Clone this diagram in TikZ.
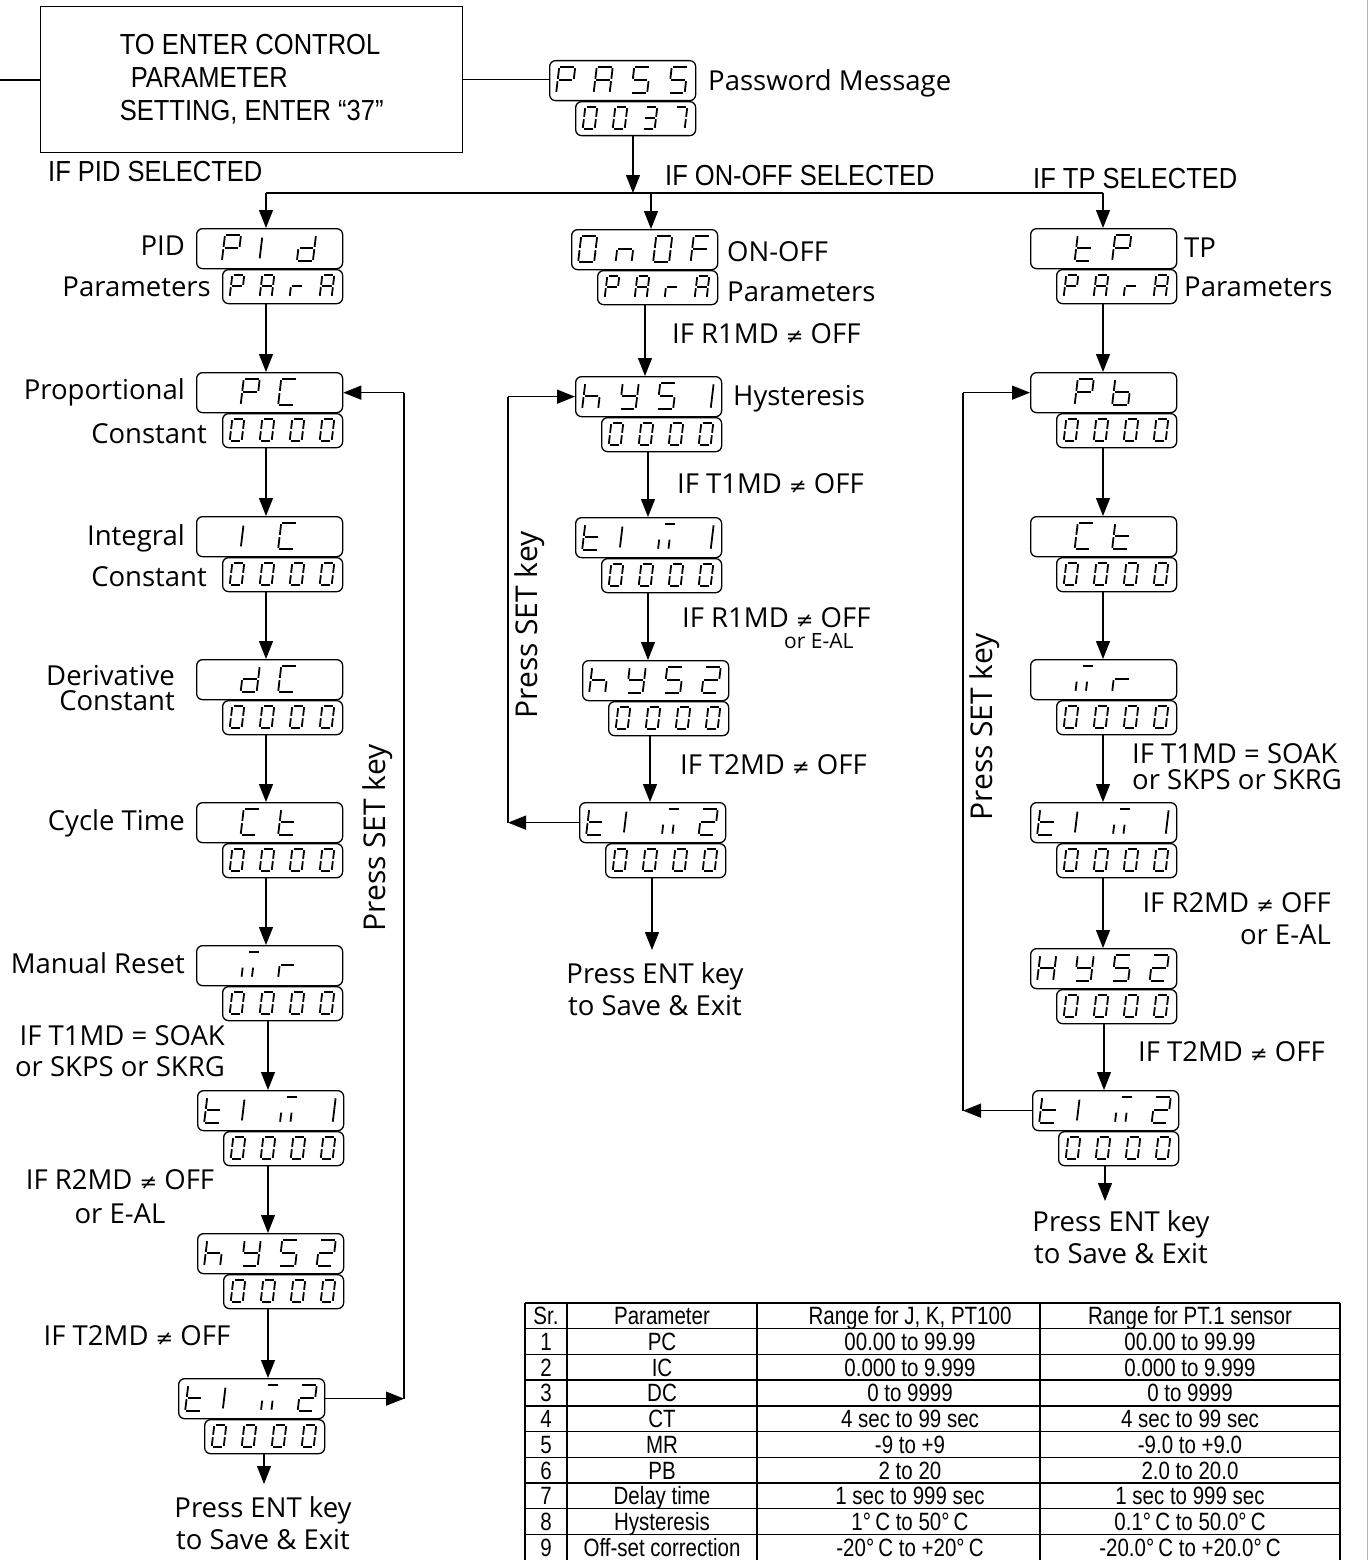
\documentclass[tikz,border=0pt]{standalone}
\usepackage{fontspec}
\setmainfont{Open Sans}
\newfontfamily\cond[FakeStretch=0.88]{Liberation Sans}
\newfontfamily\tcond[FakeStretch=0.82]{Liberation Sans}
\newfontfamily\symf{DejaVu Sans}
\usetikzlibrary{arrows.meta}
\newcommand\nq{{\symf\fontsize{21}{21}\selectfont ≠}}
\newcommand\defgly[2]{\expandafter\def\csname gly#1\endcsname{#2}}
\defgly{P}{a,b,e,f,g}
\defgly{A}{a,b,c,e,f,g}
\defgly{S}{a,f,g,c,d}
\defgly{0}{a,b,c,d,e,f}
\defgly{O}{a,b,c,d,e,f}
\defgly{3}{a,b,g,c,d}
\defgly{7}{a,b,c}
\defgly{I}{l}
\defgly{1}{r}
\defgly{d}{b,c,d,e,g}
\defgly{n}{c,e,g}
\defgly{F}{a,e,f,g}
\defgly{r}{e,g}
\defgly{h}{f,e,g,c}
\defgly{y}{b,f,g,c,d}
\defgly{2}{a,b,g,e,d}
\defgly{H}{b,c,e,f,g}
\defgly{t}{f,e,g,d}
\defgly{C}{a,f,e,d}
\defgly{b}{f,e,d,c,g}
\defgly{m}{m}
\def\sgap{1.2}
\newcommand\segda{\draw[seg] (\sgap,0)--(\segW-\sgap,0);}
\newcommand\segdb{\draw[seg] (\segW,\sgap)--(\segW,\segH/2-\sgap);}
\newcommand\segdc{\draw[seg] (\segW,\segH/2+\sgap)--(\segW,\segH-\sgap);}
\newcommand\segdd{\draw[seg] (\sgap,\segH)--(\segW-\sgap,\segH);}
\newcommand\segde{\draw[seg] (0,\segH/2+\sgap)--(0,\segH-\sgap);}
\newcommand\segdf{\draw[seg] (0,\sgap)--(0,\segH/2-\sgap);}
\newcommand\segdg{\draw[seg] (\sgap,\segH/2)--(\segW-\sgap,\segH/2);}
\newcommand\segdl{\draw[seg] (0,0.1*\segH)--(0,0.9*\segH);}
\newcommand\segdr{\draw[seg] (\segW,0.05*\segH)--(\segW,0.95*\segH);}
\newcommand\segdm{\draw[seg] (0.3*\segW,0)--(0.95*\segW,0);
  \draw[seg] (0.05*\segW,0.6*\segH)--(0.05*\segW,0.95*\segH);
  \draw[seg] (0.7*\segW,0.6*\segH)--(0.7*\segW,0.95*\segH);}
\newcommand\sevseg[6]{%
  \def\segW{#4}\def\segH{#5}%
  \foreach \ch [count=\ci from 0] in {#6} {%
    \begin{scope}[shift={(#1+\ci*#3,#2)}, xslant=0.12]
      \edef\seglist{\csname gly\ch\endcsname}%
      \foreach \s in \seglist {\csname segd\s\endcsname}%
    \end{scope}%
  }%
}
\newcommand\dpair[6]{%
  \node[dtop, anchor=north west] (#1) at (#2,#3) {};
  \pgfmathsetmacro\gl{#2+73-((#4-1)*37.5+16)/2+1.5}%
  \pgfmathsetmacro\gt{#3+7}%
  \sevseg{\gl}{\gt}{37.5}{16}{26}{#5}%
  \node[dbot, anchor=north west] (#1b) at (#2+26,#3+41) {};
  \pgfmathsetmacro\gl{#2+26+10.3}%
  \pgfmathsetmacro\gt{#3+47}%
  \sevseg{\gl}{\gt}{30}{12}{22}{#6}%
}
\newcommand\trow[5]{%
  \pgfmathsetmacro\ty{1303+25.7*(#1+0.5)}%
  \node[tbl] (r#1a) at (546,\ty) {#2};
  \node[tbl] (r#1b) at (662,\ty) {#3};
  \node[tbl] (r#1c) at (910,\ty) {#4};
  \node[tbl] (r#1d) at (1190,\ty) {#5};
}
\begin{document}
\begin{tikzpicture}[x=1pt,y=-1pt,
  lbl/.style={font=\fontsize{27.5}{32}\selectfont, inner sep=0pt, text height=19.6pt, text depth=0pt},
  mlbl/.style={font=\fontsize{27.5}{32}\selectfont, inner sep=0pt},
  clbl/.style={font=\cond\fontsize{29}{33}\selectfont, inner sep=0pt, text height=20.8pt, text depth=0pt},
  tbl/.style={font=\tcond\fontsize{25}{26}\selectfont, inner sep=0pt, text height=17.9pt, text depth=0pt},
  dtop/.style={draw, rounded corners=6pt, line width=1.3pt, minimum width=146pt, minimum height=40pt, inner sep=0pt},
  dbot/.style={draw, rounded corners=6pt, line width=1.3pt, minimum width=120pt, minimum height=34pt, inner sep=0pt},
  seg/.style={line width=1.8pt},
  arr/.style={-{Triangle[length=18pt,width=14pt]}, line width=1.3pt},
  wire/.style={line width=2.2pt},
  vlbl/.style={font=\fontsize{30}{30}\selectfont, inner sep=0pt, rotate=90},
  tline/.style={line width=1.4pt}
]
\useasboundingbox (0,0) rectangle (1369,1560);
% ---------- top
\node[draw, line width=1.4pt, minimum width=422pt, minimum height=146pt, anchor=north west,
  align=left, font=\cond\fontsize{29}{33}\selectfont, inner sep=0pt] (tbox) at (40,6)
  {TO ENTER CONTROL\\\hspace*{11pt}PARAMETER\\SETTING, ENTER “37”};
\coordinate (lft) at (0,79);
\draw[line width=1.8pt] (lft |- tbox.west) -- (tbox.west);
\dpair{pass}{549}{60}{4}{P,A,S,S}{0,0,3,7}
\draw[line width=1.6pt] (tbox.east) -- (tbox.east -| pass.west);
\node[lbl, anchor=west] (pwm) at (708,81) {Password Message};
\coordinate (xp) at (633,0);
\coordinate (hl) at (0,193);
\coordinate (xa) at (266,0);
\coordinate (xm) at (651,0);
\coordinate (xr) at (1103,0);
\node[clbl, anchor=west] (ifpid) at (48,171) {IF PID SELECTED};
\node[clbl, anchor=west] (ifon) at (665,175) {IF ON-OFF SELECTED};
\node[clbl, anchor=west] (iftp) at (1033,178) {IF TP SELECTED};
% ---------- left column
\dpair{pid}{196}{228}{3}{P,I,d}{P,A,r,A}
\dpair{pc}{196}{372}{2}{P,C}{0,0,0,0}
\dpair{ic}{196}{516}{2}{I,C}{0,0,0,0}
\dpair{dc}{196}{659}{2}{d,C}{0,0,0,0}
\dpair{ct}{196}{802}{2}{C,t}{0,0,0,0}
\dpair{mr}{196}{945}{2}{m,r}{0,0,0,0}
\dpair{tma}{197}{1090}{4}{t,I,m,1}{0,0,0,0}
\dpair{hya}{197}{1233}{4}{h,y,S,2}{0,0,0,0}
\dpair{tmb}{178}{1378}{4}{t,I,m,2}{0,0,0,0}
% ---------- middle column
\dpair{onof}{571}{229}{4}{O,n,O,F}{P,A,r,A}
\dpair{hys}{575}{376}{4}{h,y,S,1}{0,0,0,0}
\dpair{tmc}{575}{517}{4}{t,I,m,1}{0,0,0,0}
\dpair{hyb}{582}{660}{4}{h,y,S,2}{0,0,0,0}
\dpair{tmd}{579}{802}{4}{t,I,m,2}{0,0,0,0}
% ---------- right column
\dpair{tp}{1030}{228}{2}{t,P}{P,A,r,A}
\dpair{pb}{1030}{372}{2}{P,b}{0,0,0,0}
\dpair{ctr}{1030}{516}{2}{C,t}{0,0,0,0}
\dpair{mrr}{1030}{659}{2}{m,r}{0,0,0,0}
\dpair{tme}{1030}{802}{4}{t,I,m,1}{0,0,0,0}
\dpair{hyc}{1030}{948}{4}{H,y,S,2}{0,0,0,0}
\dpair{tmf}{1032}{1090}{4}{t,I,m,2}{0,0,0,0}
% ---------- distribution
\draw[arr] (passb.south -| xp) -- (hl -| xp);
\draw[wire] (hl -| xa) -- (hl -| xr);
\draw[arr] (hl -| xa) -- (pid.north -| xa);
\draw[arr] (hl -| xm) -- (onof.north -| xm);
\draw[arr] (hl -| xr) -- (tp.north -| xr);
% ---------- left arrows and labels
\coordinate (xa2) at (268,0);
\coordinate (ea) at (264,1484);
\draw[arr] (pidb.south -| xa) -- (pc.north -| xa);
\draw[arr] (pcb.south -| xa) -- (ic.north -| xa);
\draw[arr] (icb.south -| xa) -- (dc.north -| xa);
\draw[arr] (dcb.south -| xa) -- (ct.north -| xa);
\draw[arr] (ctb.south -| xa) -- (mr.north -| xa);
\draw[arr] (mrb.south -| xa2) -- (tma.north -| xa2);
\draw[arr] (tmab.south -| xa2) -- (hya.north -| xa2);
\draw[arr] (hyab.south -| xa2) -- (tmb.north -| xa2);
\draw[arr] (tmbb.south -| ea) -- (ea);
\node[lbl, anchor=east] (lpid) at (185,246) {PID};
\node[lbl, anchor=east] (lpar) at (211,287) {Parameters};
\node[lbl, anchor=east] (lprop) at (185,390) {Proportional};
\node[lbl, anchor=east] (lcon1) at (207,434) {Constant};
\node[lbl, anchor=east] (lint) at (185,536) {Integral};
\node[lbl, anchor=east] (lcon2) at (207,577) {Constant};
\node[mlbl, align=right, anchor=north east, font=\fontsize{27.5}{25}\selectfont] (lder) at (175,665) {Derivative\\Constant};
\node[lbl, anchor=east] (lcyc) at (185,821) {Cycle Time};
\node[lbl, anchor=east] (lman) at (185,964) {Manual Reset};
\node[mlbl, align=right, anchor=north east, font=\fontsize{27.5}{31}\selectfont] (lt1) at (225,1025) {IF T1MD = SOAK\\or SKPS or SKRG};
\node[mlbl, align=center, anchor=north, font=\fontsize{27.5}{34}\selectfont] (lr2) at (120,1169) {IF R2MD \nq{} OFF\\or E-AL};
\node[lbl] (lt2) at (137,1336) {IF T2MD \nq{} OFF};
\node[mlbl, align=center, anchor=north] (lent) at (263,1496) {Press ENT key\\to Save \& Exit};
\node[vlbl] (lset) at (378,838) {Press SET key};
\coordinate (fl) at (404,0);
\draw[arr] (tmb.east) -- (tmb.east -| fl);
\draw[wire] (tmb.east -| fl) -- (pc.east -| fl);
\draw[arr] (pc.east -| fl) -- (pc.east);
% ---------- middle arrows and labels
\coordinate (xm1) at (645,0);
\coordinate (xm2) at (648,0);
\coordinate (xm3) at (650,0);
\coordinate (em) at (652,950);
\draw[arr] (onofb.south -| xm1) -- (hys.north -| xm1);
\draw[arr] (hysb.south -| xm2) -- (tmc.north -| xm2);
\draw[arr] (tmcb.south -| xm2) -- (hyb.north -| xm2);
\draw[arr] (hybb.south -| xm3) -- (tmd.north -| xm3);
\draw[arr] (tmdb.south -| em) -- (em);
\node[lbl, anchor=west] (mon) at (727,252) {ON-OFF};
\node[lbl, anchor=west] (mpar) at (727,292) {Parameters};
\node[lbl, anchor=west] (mr1) at (672,334) {IF R1MD \nq{} OFF};
\node[lbl, anchor=west] (mhys) at (733,396) {Hysteresis};
\node[lbl, anchor=west] (mt1) at (677,484) {IF T1MD \nq{} OFF};
\node[mlbl, align=right, anchor=north west] (mr1b) at (682,607) {IF R1MD \nq{} OFF\\[-10.5pt]{\fontsize{21}{21}\selectfont or E-AL}\hspace*{17pt}};
\node[lbl, anchor=west] (mt2) at (680,765) {IF T2MD \nq{} OFF};
\node[mlbl, align=center, anchor=north] (ment) at (655,962) {Press ENT key\\to Save \& Exit};
\node[vlbl] (mset) at (530,625) {Press SET key};
\coordinate (fm) at (508,0);
\draw[arr] (tmd.west) -- (tmd.west -| fm);
\draw[wire] (tmd.west -| fm) -- (hys.west -| fm);
\draw[arr] (hys.west -| fm) -- (hys.west);
% ---------- right arrows and labels
\coordinate (xr2) at (1104,0);
\coordinate (er) at (1105,1201);
\draw[arr] (tpb.south -| xr) -- (pb.north -| xr);
\draw[arr] (pbb.south -| xr) -- (ctr.north -| xr);
\draw[arr] (ctrb.south -| xr) -- (mrr.north -| xr);
\draw[arr] (mrrb.south -| xr) -- (tme.north -| xr);
\draw[arr] (tmeb.south -| xr) -- (hyc.north -| xr);
\draw[arr] (hycb.south -| xr2) -- (tmf.north -| xr2);
\draw[arr] (tmfb.south -| er) -- (er);
\node[lbl, anchor=west] (rtp) at (1184,248) {TP};
\node[lbl, anchor=west] (rpar) at (1184,287) {Parameters};
\node[mlbl, align=left, anchor=north west, font=\fontsize{27.5}{26}\selectfont] (rt1) at (1132,743) {IF T1MD = SOAK\\or SKPS or SKRG};
\node[mlbl, align=right, anchor=north east] (rr2) at (1331,892) {IF R2MD \nq{} OFF\\or E-AL};
\node[lbl, anchor=west] (rt2) at (1138,1052) {IF T2MD \nq{} OFF};
\node[mlbl, align=center, anchor=north] (rent) at (1121,1210) {Press ENT key\\to Save \& Exit};
\node[vlbl] (rset) at (985,727) {Press SET key};
\coordinate (fr) at (963,0);
\draw[arr] (tmf.west) -- (tmf.west -| fr);
\draw[wire] (tmf.west -| fr) -- (pb.west -| fr);
\draw[arr] (pb.west -| fr) -- (pb.west);
% ---------- table
\foreach \k in {0,...,9} {\draw[tline] (525,1303+25.7*\k) -- (1340,1303+25.7*\k);}
\foreach \xx in {525,567,757,1040,1340} {\draw[tline] (\xx,1303) -- (\xx,1560);}
\trow{0}{Sr.}{Parameter}{Range for J, K, PT100}{Range for PT.1 sensor}
\trow{1}{1}{PC}{00.00 to 99.99}{00.00 to 99.99}
\trow{2}{2}{IC}{0.000 to 9.999}{0.000 to 9.999}
\trow{3}{3}{DC}{0 to 9999}{0 to 9999}
\trow{4}{4}{CT}{4 sec to 99 sec}{4 sec to 99 sec}
\trow{5}{5}{MR}{-9 to +9}{-9.0 to +9.0}
\trow{6}{6}{PB}{2 to 20}{2.0 to 20.0}
\trow{7}{7}{Delay time}{1 sec to 999 sec}{1 sec to 999 sec}
\trow{8}{8}{Hysteresis}{1°\,C to 50°\,C}{0.1°\,C to 50.0°\,C}
\trow{9}{9}{Off-set correction}{-20°\,C to +20°\,C}{-20.0°\,C to +20.0°\,C}
% ---------- page edge
\draw[gray!60, line width=1.6pt] (1367.5,0) -- (1367.5,1560);
\end{tikzpicture}
\end{document}
